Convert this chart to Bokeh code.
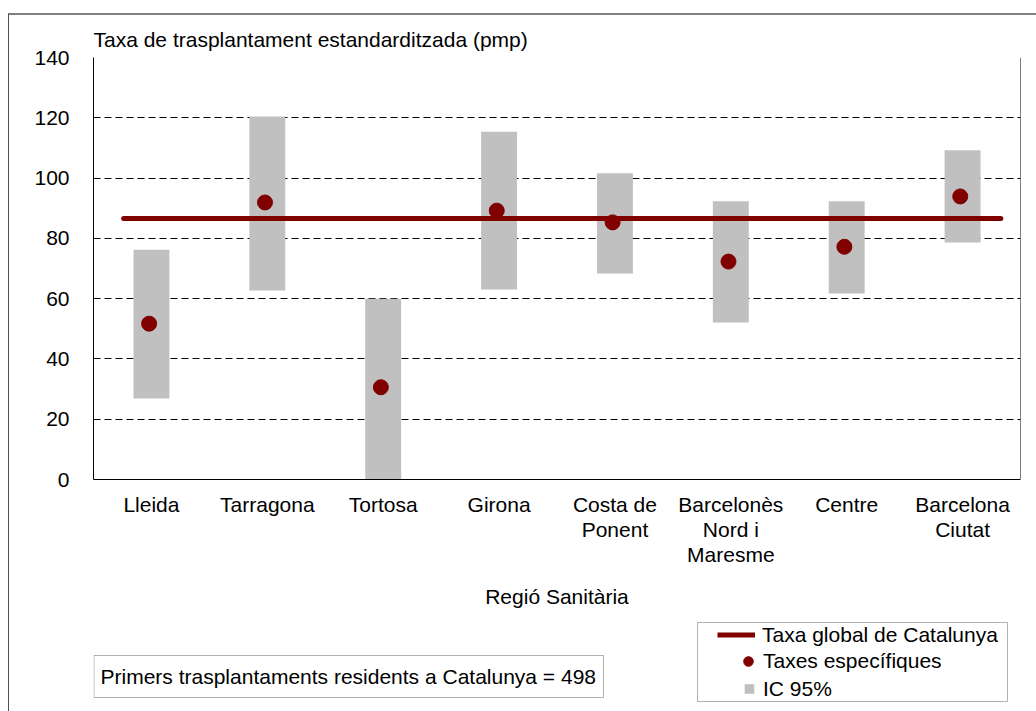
import numpy as np
from bokeh.plotting import figure
from bokeh.layouts import column
from bokeh.models import (Range1d, FixedTicker, Span, Label, Legend, LegendItem,
                          BoxAnnotation, ColumnDataSource)
from bokeh.embed import file_html
from bokeh.resources import INLINE

# ---- data ----
regions = ["Lleida", "Tarragona", "Tortosa", "Girona", "Costa de\nPonent",
           "Barcelonès\nNord i\nMaresme", "Centre", "Barcelona\nCiutat"]
rate = [51.7, 91.9, 30.6, 89.2, 85.3, 72.3, 77.2, 93.9]
ci_low = [26.9, 62.7, 0.0, 63.0, 68.3, 52.1, 61.7, 78.6]
ci_high = [76.2, 120.4, 60.0, 115.4, 101.6, 92.3, 92.3, 109.2]
global_rate = 86.6
y_ticks = [0, 20, 40, 60, 80, 100, 120, 140]
y_title = "Taxa de trasplantament estandarditzada (pmp)"
x_title = "Regió Sanitària"
note = "Primers trasplantaments residents a Catalunya = 498"
legend_labels = ["Taxa global de Catalunya", "Taxes específiques", "IC 95%"]

FONT = "Liberation Sans"
FS = "21px"
DARKRED = "#800000"
GREY = "#C0C0C0"
W = 1027
BL, BR = 84, 16

xs = np.arange(len(regions)) + 0.5
src = ColumnDataSource(dict(x=xs, xd=xs - 0.02, rate=rate, lo=ci_low, hi=ci_high))

p = figure(width=W, height=600, output_backend="svg", toolbar_location=None,
           x_range=Range1d(0, len(regions)), y_range=Range1d(0, 140),
           min_border_left=BL, min_border_right=BR, min_border_top=42,
           min_border_bottom=136, outline_line_color=None,
           background_fill_color="white", border_fill_color="white")

p.title.text = y_title
p.title.align = "left"
p.title.offset = 0
p.title.text_font = FONT
p.title.text_font_size = FS
p.title.text_font_style = "normal"
p.title.text_color = "black"
p.title.standoff = 13

# CI bars
p.vbar(x="x", width=0.31, bottom="lo", top="hi", source=src,
       fill_color=GREY, line_color=None)
# global line
p.segment(x0=[xs[0] - 0.24], x1=[xs[-1] + 0.33], y0=[global_rate], y1=[global_rate],
          line_color=DARKRED, line_width=5, line_cap="round")
# points
p.scatter(x="xd", y="rate", source=src, size=15, fill_color=DARKRED, line_color=DARKRED)

# axes
p.yaxis.ticker = FixedTicker(ticks=y_ticks)
p.xaxis.ticker = FixedTicker(ticks=list(xs))
p.xaxis.major_label_overrides = {float(x): r for x, r in zip(xs, regions)}
for ax in (p.xaxis[0], p.yaxis[0]):
    ax.major_tick_out = 0
    ax.major_tick_in = 0
    ax.minor_tick_out = 0
    ax.minor_tick_in = 0
    ax.axis_line_color = "black"
    ax.axis_line_width = 1
    ax.major_label_text_font = FONT
    ax.major_label_text_font_size = FS
    ax.major_label_text_color = "black"
p.yaxis.major_label_standoff = 24
p.xaxis.major_label_standoff = 13
p.xaxis.major_label_text_line_height = 1.09
p.xaxis.axis_label = x_title
p.xaxis.axis_label_text_font = FONT
p.xaxis.axis_label_text_font_size = FS
p.xaxis.axis_label_text_font_style = "normal"
p.xaxis.axis_label_text_color = "black"
p.xaxis.axis_label_standoff = 16

p.xgrid.grid_line_color = None
p.ygrid.ticker = FixedTicker(ticks=y_ticks)
p.ygrid.grid_line_color = "black"
p.ygrid.grid_line_dash = "7 4"
p.ygrid.grid_line_width = 1

p.add_layout(Span(location=len(regions), dimension="height", line_color="black", line_width=1))

# ---- bottom strip: note box and legend (x in px from plot-area left, y in px from bottom) ----
HB = 96
FW = W - BL - BR
q = figure(width=W, height=HB, output_backend="svg", toolbar_location=None,
           x_range=Range1d(0, FW), y_range=Range1d(0, HB),
           x_axis_location=None, y_axis_location=None,
           min_border_left=BL, min_border_right=BR,
           min_border_top=0, min_border_bottom=0,
           outline_line_color=None, background_fill_color="white",
           border_fill_color="white")
q.xgrid.grid_line_color = None
q.ygrid.grid_line_color = None

q.add_layout(BoxAnnotation(left=0.5, right=510, top=56, bottom=14,
                           fill_color="white", fill_alpha=1, line_color="black", line_width=1))
q.add_layout(Label(x=7, y=35, text=note, text_font=FONT, text_font_size=FS,
                   text_baseline="middle", text_color="black"))

q.add_layout(BoxAnnotation(left=604, right=914, top=89, bottom=10,
                           fill_color="white", fill_alpha=1, line_color="black", line_width=1))
# legend proxies (placed outside the visible range)
r_line = q.line(x=[-50, -40], y=[-50, -50], line_color=DARKRED, line_width=5)
r_dot = q.scatter(x=[-50], y=[-50], size=15, fill_color=DARKRED, line_color=DARKRED)
r_sq = q.scatter(x=[-50], y=[-50], marker="square", size=14, fill_color=GREY, line_color=None)


def make_legend(label, renderer, loc, gw, gh, standoff):
    lg = Legend(items=[LegendItem(label=label, renderers=[renderer])],
                location=loc, padding=0, margin=0, spacing=0,
                glyph_height=gh, glyph_width=gw, label_height=gh, label_standoff=standoff,
                label_text_font=FONT, label_text_font_size=FS,
                label_text_color="black",
                border_line_alpha=0, background_fill_alpha=0)
    q.add_layout(lg, "center")


make_legend(legend_labels[0], r_line, (624, 63), 38, 27, 7)
make_legend(legend_labels[1], r_dot, (643, 34), 24, 32, 3)
make_legend(legend_labels[2], r_sq, (644, 5), 24, 35, 2)

layout = column(p, q, spacing=0, margin=(13, 0, 0, 8),
                styles={"border-top": "2px solid #808080", "border-left": "1px solid #505050"})

open("out.html", "w").write(file_html(layout, INLINE))
